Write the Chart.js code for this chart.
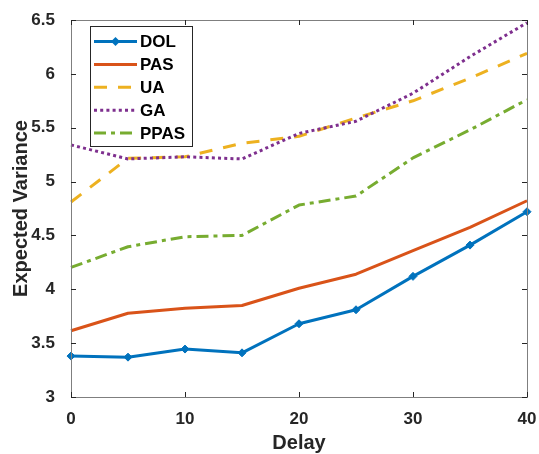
<!DOCTYPE html>
<html>
<head>
<meta charset="utf-8">
<script src="https://cdn.jsdelivr.net/npm/chart.js@4.4.7/dist/chart.umd.min.js"></script>
<style>
  html, body { margin: 0; padding: 0; background: #fff; }
  canvas { display: block; }
</style>
</head>
<body>
<canvas id="varianceChart" width="539" height="454"></canvas>
<script>
const FONT = '"Liberation Sans", Arial, Helvetica, sans-serif';
const INK = "#262626";

// Delay values along the x axis
const delays = [0, 5, 10, 15, 20, 25, 30, 35, 40];
const xTicks = [0, 10, 20, 30, 40];
const yTicks = [3, 3.5, 4, 4.5, 5, 5.5, 6, 6.5];

// Expected variance per method
const dol  = [3.38, 3.37, 3.445, 3.41, 3.68, 3.81, 4.12, 4.41, 4.72];
const pas  = [3.615, 3.777, 3.823, 3.85, 4.01, 4.14, 4.358, 4.575, 4.822];
const ua   = [4.81, 5.216, 5.23, 5.355, 5.42, 5.59, 5.75, 5.96, 6.19];
const ga   = [5.34, 5.21, 5.23, 5.21, 5.447, 5.56, 5.82, 6.16, 6.475];
const ppas = [4.203, 4.395, 4.488, 4.5, 4.782, 4.866, 5.22, 5.48, 5.76];

const seriesNames = ["DOL", "PAS", "UA", "GA", "PPAS"];
const seriesValues = [dol, pas, ua, ga, ppas];
const seriesColors = ["#0072BD", "#D95319", "#EDB120", "#7E2F8E", "#77AC30"];
const seriesDashes = [[], [], [13, 11], [3, 3.2], [12, 5, 4, 5]];

const datasets = seriesNames.map((name, i) => ({
    label: name,
    data: delays.map((d, k) => ({ x: d, y: seriesValues[i][k] })),
    borderColor: seriesColors[i],
    backgroundColor: seriesColors[i],
    borderWidth: 3,
    borderDash: seriesDashes[i],
    borderJoinStyle: "round",
    pointStyle: "rectRot",
    pointRadius: i === 0 ? 4 : 0,
    pointBorderWidth: 1,
    tension: 0,
    clip: false,
    order: 10 - i,
}));

// MATLAB-like frame: full box with inward ticks on all four sides
const framePlugin = {
    id: "frame",
    afterDatasetsDraw(chart) {
        const { ctx, chartArea: a, scales } = chart;
        ctx.save();
        ctx.strokeStyle = "#7f7f7f";
        ctx.lineWidth = 1;
        ctx.strokeRect(Math.round(a.left) + 0.5, Math.round(a.top) + 0.5,
            Math.round(a.right - a.left), Math.round(a.bottom - a.top));
        ctx.strokeStyle = INK;
        ctx.beginPath();
        const len = 5;
        xTicks.forEach(v => {
            const px = Math.round(scales.x.getPixelForValue(v)) + 0.5;
            ctx.moveTo(px, a.bottom); ctx.lineTo(px, a.bottom - len);
            ctx.moveTo(px, a.top); ctx.lineTo(px, a.top + len);
        });
        yTicks.forEach(v => {
            const py = Math.round(scales.y.getPixelForValue(v)) + 0.5;
            ctx.moveTo(a.left, py); ctx.lineTo(a.left + len, py);
            ctx.moveTo(a.right, py); ctx.lineTo(a.right - len, py);
        });
        ctx.stroke();
        ctx.restore();
    },
};

// Boxed legend in the upper left corner of the plot
const boxLegendPlugin = {
    id: "boxLegend",
    afterDraw(chart) {
        const { ctx } = chart;
        const box = { x: 90.5, y: 26.5, w: 102, h: 120 };
        ctx.save();
        ctx.fillStyle = "#fff";
        ctx.fillRect(box.x, box.y, box.w, box.h);
        ctx.strokeStyle = INK;
        ctx.lineWidth = 1;
        ctx.strokeRect(box.x, box.y, box.w, box.h);
        ctx.font = "bold 17px " + FONT;
        ctx.textBaseline = "middle";
        chart.data.datasets.forEach((ds, i) => {
            const cy = 41.5 + i * 22.9;
            ctx.strokeStyle = ds.borderColor;
            ctx.lineWidth = ds.borderWidth;
            ctx.setLineDash(ds.borderDash);
            ctx.beginPath();
            ctx.moveTo(94, cy);
            ctx.lineTo(137, cy);
            ctx.stroke();
            ctx.setLineDash([]);
            if (ds.pointRadius > 0) {
                const r = ds.pointRadius + 0.5;
                ctx.fillStyle = ds.borderColor;
                ctx.beginPath();
                ctx.moveTo(115.5, cy - r);
                ctx.lineTo(115.5 + r, cy);
                ctx.lineTo(115.5, cy + r);
                ctx.lineTo(115.5 - r, cy);
                ctx.closePath();
                ctx.fill();
            }
            ctx.fillStyle = "#000";
            ctx.fillText(ds.label, 140, cy + 1);
        });
        ctx.restore();
    },
};

const tickFont = { family: FONT, size: 17, weight: "bold" };
const titleFont = { family: FONT, size: 20, weight: "bold" };

new Chart(document.getElementById("varianceChart"), {
    type: "line",
    data: { datasets },
    options: {
        responsive: false,
        animation: false,
        devicePixelRatio: 1,
        layout: { padding: { top: 20, right: 12, left: 0, bottom: 0 } },
        plugins: {
            legend: { display: false },
            tooltip: { enabled: false },
        },
        scales: {
            x: {
                type: "linear",
                min: 0,
                max: 40,
                afterBuildTicks: s => { s.ticks = xTicks.map(v => ({ value: v })); },
                afterFit: s => { s.height = 57; s.paddingLeft = 0; s.paddingRight = 0; },
                grid: { display: false },
                border: { display: false },
                ticks: { color: INK, padding: 4, maxRotation: 0, font: tickFont, callback: v => String(v) },
                title: {
                    display: true,
                    text: "Delay",
                    color: INK,
                    padding: { top: 0, bottom: 0 },
                    font: { ...titleFont, lineHeight: 1.1 },
                },
            },
            y: {
                min: 3,
                max: 6.5,
                afterBuildTicks: s => { s.ticks = yTicks.map(v => ({ value: v })); },
                afterFit: s => { s.width = 71; s.paddingTop = 0; s.paddingBottom = 0; },
                grid: { display: false },
                border: { display: false },
                ticks: { color: INK, padding: 8, font: tickFont, callback: v => String(v) },
                title: {
                    display: true,
                    text: "Expected Variance",
                    color: INK,
                    padding: { top: 9, bottom: 0 },
                    font: titleFont,
                },
            },
        },
    },
    plugins: [framePlugin, boxLegendPlugin],
});
</script>
</body>
</html>
